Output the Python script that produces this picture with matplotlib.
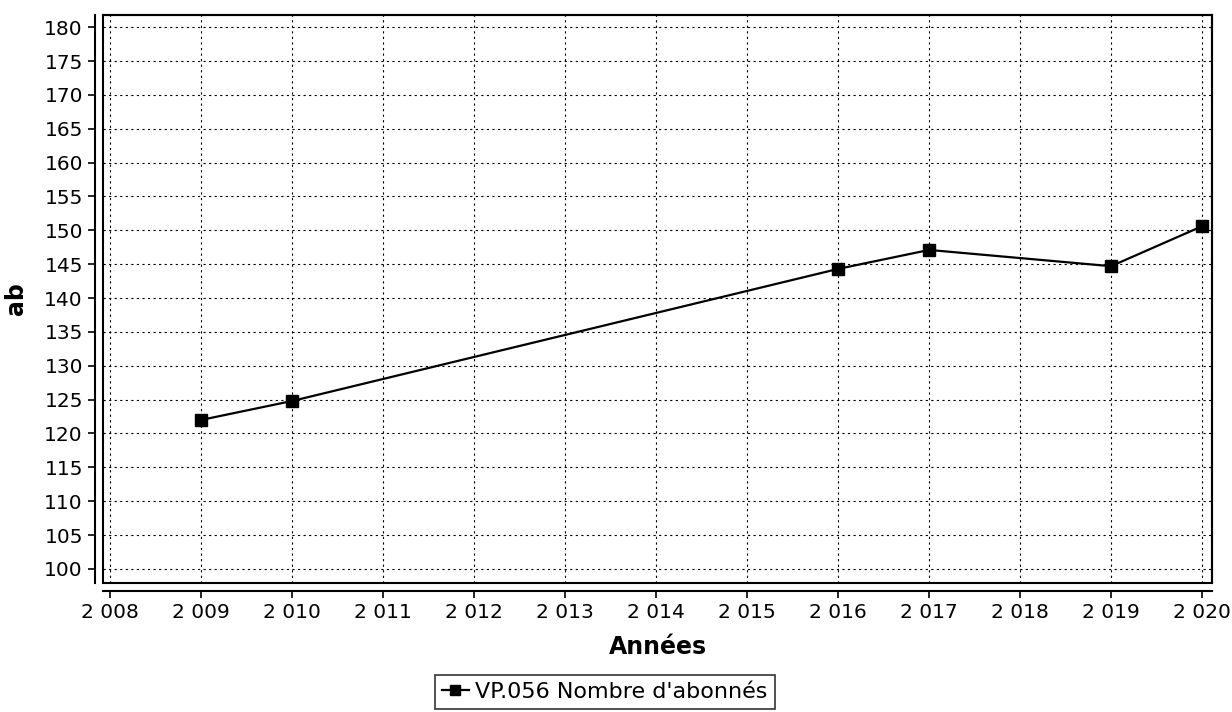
import matplotlib.pyplot as plt
from matplotlib.ticker import MultipleLocator, FuncFormatter

years = [2009, 2010, 2016, 2017, 2019, 2020]
abonnes = [122.0, 124.8, 144.3, 147.1, 144.7, 150.6]
series_label = "VP.056 Nombre d'abonnés"

fig = plt.figure(figsize=(12.32, 7.12), dpi=100)
ax = fig.add_axes([0.0836, 0.181, 0.9002, 0.798])

ax.plot(years, abonnes, color='black', linewidth=1.6, marker='s', markersize=9,
        label=series_label)

ax.set_xlim(2007.92, 2020.11)
ax.set_ylim(97.9, 181.8)
ax.xaxis.set_major_locator(MultipleLocator(1))
ax.yaxis.set_major_locator(MultipleLocator(5))
ax.xaxis.set_major_formatter(FuncFormatter(lambda v, p: f"{int(round(v)):,}".replace(',', ' ')))

ax.grid(True, color='black', linestyle=(0, (2, 3)), linewidth=0.8)

# detached axes lines like the original
ax.spines['left'].set_position(('outward', 6))
ax.spines['bottom'].set_position(('outward', 6))
for s in ax.spines.values():
    s.set_linewidth(1.5)
ax.patch.set_edgecolor('black')
ax.patch.set_linewidth(1.5)

ax.tick_params(axis='both', labelsize=14.5, width=1.2, length=5)
ax.set_xlabel('Années', fontsize=17, fontweight='bold', labelpad=9)
ax.set_ylabel('ab', fontsize=17, fontweight='bold', labelpad=12)

leg = fig.legend(loc='center', bbox_to_anchor=(605 / 1232, 1 - 692 / 712),
                 fontsize=16, frameon=True, fancybox=False, handlelength=1.2,
                 handletextpad=0.3, borderpad=0.3, markerscale=0.75)
leg.get_frame().set_edgecolor('black')
leg.get_frame().set_linewidth(1.2)

fig.savefig('out.png', dpi=100)
